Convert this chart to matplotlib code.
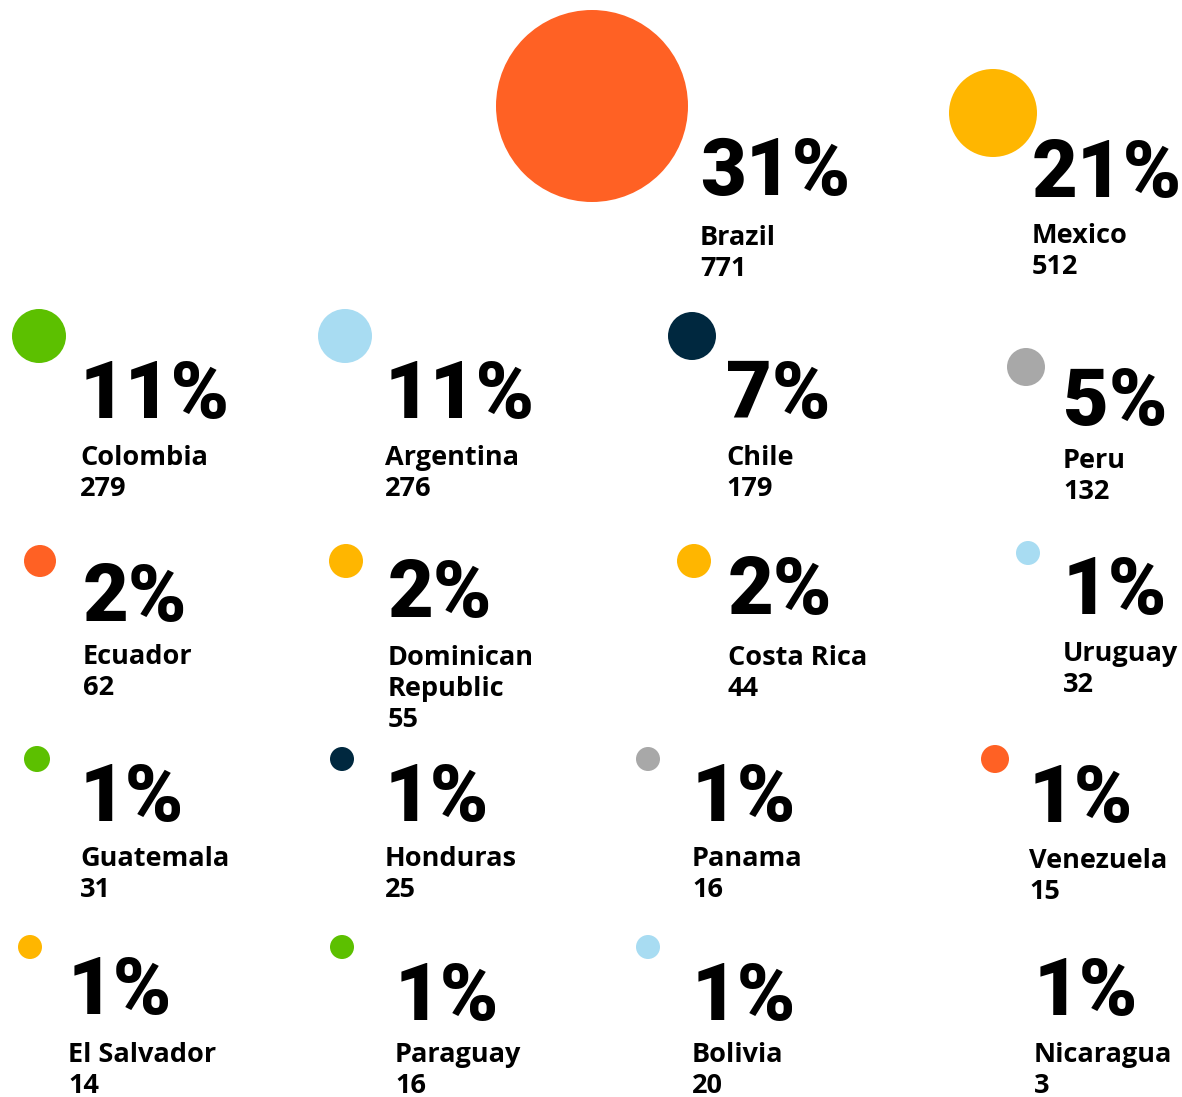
import matplotlib.pyplot as plt
from matplotlib.patches import Circle

countries = ["Brazil", "Mexico", "Colombia", "Argentina", "Chile", "Peru",
             "Ecuador", "Dominican\nRepublic", "Costa Rica", "Uruguay",
             "Guatemala", "Honduras", "Panama", "Venezuela",
             "El Salvador", "Paraguay", "Bolivia", "Nicaragua"]
counts = [771, 512, 279, 276, 179, 132, 62, 55, 44, 32, 31, 25, 16, 15, 14, 16, 20, 3]
shares = [31, 21, 11, 11, 7, 5, 2, 2, 2, 1, 1, 1, 1, 1, 1, 1, 1, 1]

ORANGE = "#ff6124"
YELLOW = "#ffb600"
GREEN = "#5cc000"
LIGHT_BLUE = "#a8dcf2"
NAVY = "#00283f"
GRAY = "#a8a8a8"

colors = [ORANGE, YELLOW, GREEN, LIGHT_BLUE, NAVY, GRAY,
          ORANGE, YELLOW, YELLOW, LIGHT_BLUE,
          GREEN, NAVY, GRAY, ORANGE,
          YELLOW, GREEN, LIGHT_BLUE, None]

# layout in pixels: circle centre, circle radius, text left, % baseline, name baseline
layout = [
    (592, 106, 96, 700, 195, 245),
    (993, 113, 44, 1032, 197, 243),
    (39, 336, 27, 80, 418, 465),
    (345, 336, 27, 385, 418, 465),
    (692, 336, 24, 726, 418, 465),
    (1026, 367, 19, 1063, 425, 468),
    (40, 561, 16, 83, 621, 664),
    (346, 561, 17, 388, 617, 665),
    (694, 561, 17, 728, 614, 665),
    (1028, 553, 12, 1063, 614, 661),
    (37, 759, 13, 80, 821, 866),
    (342, 759, 12, 385, 821, 866),
    (648, 759, 12, 692, 821, 866),
    (995, 759, 14, 1029, 822, 868),
    (30, 947, 12, 68, 1014, 1062),
    (342, 947, 12, 395, 1020, 1062),
    (648, 947, 12, 692, 1020, 1062),
    (0, 0, 0, 1034, 1015, 1062),
]

W, H = 1182, 1097
LINE = 31

fig = plt.figure(figsize=(W / 100, H / 100), dpi=100)
ax = fig.add_axes([0, 0, 1, 1])
ax.set_xlim(0, W)
ax.set_ylim(H, 0)
ax.axis("off")

for name, n, pct, col, (cx, cy, r, tx, ty, ny) in zip(countries, counts, shares, colors, layout):
    if col is not None and r > 0:
        ax.add_patch(Circle((cx, cy), r, color=col, lw=0))
    ax.text(tx, ty, f"{pct}%", fontsize=57, family="Roboto", weight="black",
            va="baseline", ha="left", color="black")
    lines = name.split("\n") + [str(n)]
    for i, line in enumerate(lines):
        ax.text(tx, ny + i * LINE, line, fontsize=19.5, family="Open Sans", weight="bold",
                va="baseline", ha="left", color="black")

fig.savefig("out.png", dpi=100, facecolor="white")
